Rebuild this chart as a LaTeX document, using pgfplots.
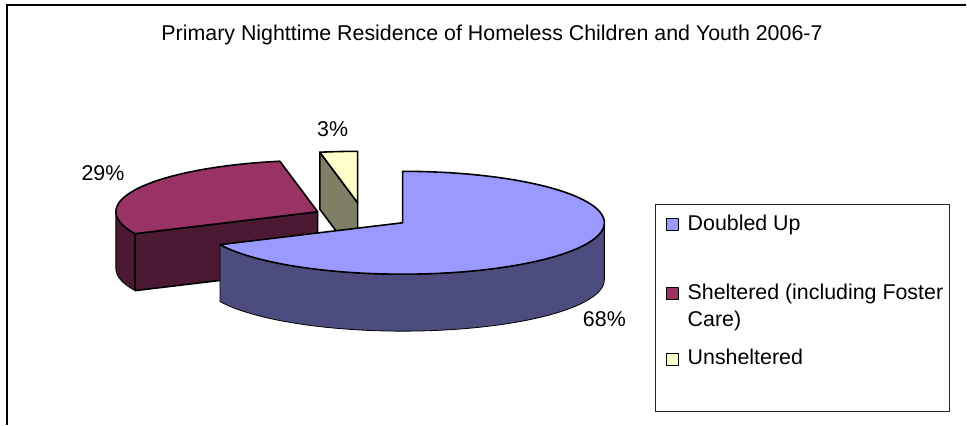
\documentclass[border=0pt]{standalone}
\usepackage{fontspec}
\setmainfont{Liberation Sans}
\usepackage{pgfplots}
\pgfplotsset{compat=1.18}
\usepackage{pgfplotstable}
\usepgfplotslibrary{fillbetween}

\definecolor{blueTop}{RGB}{153,153,255}
\definecolor{blueSide}{RGB}{76,76,127}
\definecolor{maroonTop}{RGB}{153,51,102}
\definecolor{maroonSide}{RGB}{76,25,51}
\definecolor{yellowTop}{RGB}{255,255,204}
\definecolor{yellowSide}{RGB}{127,127,102}

\pgfplotstableread{
category value
Doubled 68
Sheltered 29
Unsheltered 3
}\piedata

\newcommand\cf{\fontsize{10.7pt}{13.5pt}\selectfont}

\begin{document}%
\begin{tikzpicture}
\pgfplotstablegetelem{0}{value}\of\piedata \let\vA\pgfplotsretval
\pgfplotstablegetelem{1}{value}\of\piedata \let\vB\pgfplotsretval
\pgfplotstablegetelem{2}{value}\of\piedata \let\vC\pgfplotsretval
\pgfmathsetmacro{\tA}{90-3.6*\vA}
\pgfmathsetmacro{\tB}{\tA-3.6*\vB}
\pgfmathsetmacro{\tC}{\tB-3.6*\vC}
\def\ra{202}\def\rb{51.5}\def\hh{57}
\def\cAx{403}\def\cAy{202}
\def\cBx{318}\def\cBy{213}
\def\cCx{358}\def\cCy{222}
\pgfmathsetmacro{\cAyb}{\cAy-\hh}
\pgfmathsetmacro{\cByb}{\cBy-\hh}
\pgfmathsetmacro{\cCyb}{\cCy-\hh}
\pgfmathsetmacro{\pBx}{\cBx+\ra*cos(\tA)}
\pgfmathsetmacro{\pBy}{\cBy+\rb*sin(\tA)}
\pgfmathsetmacro{\pByb}{\pBy-\hh}
\pgfmathsetmacro{\pCx}{\cCx+\ra*cos(\tB)}
\pgfmathsetmacro{\pCy}{\cCy+\rb*sin(\tB)}
\pgfmathsetmacro{\pCyb}{\pCy-\hh}
\begin{axis}[
  scale only axis, width=483.5pt, height=212.5pt,
  xmin=0, xmax=967, ymin=0, ymax=425,
  hide axis, clip=false,
  every axis plot/.append style={line width=0.8pt, line join=round},
]
\path (axis cs:0,0) rectangle (axis cs:967,425);
% frame
\draw[line width=1pt, black] (axis cs:7.5,0) -- (axis cs:7.5,420) -- (axis cs:967,420);
% title
\node[anchor=base, font=\cf] at (axis cs:492.5,384) {Primary Nighttime Residence of Homeless Children and Youth 2006-7};

% --- Unsheltered slice
\addplot[fill=yellowSide, draw=black] coordinates {(\cCx,\cCy) (\pCx,\pCy) (\pCx,\pCyb) (\cCx,\cCyb)} -- cycle;
\addplot[fill=yellowTop, draw=black, domain=\tC:\tB, samples=10, variable=\t]
  ({\cCx+\ra*cos(\t)},{\cCy+\rb*sin(\t)}) -- (axis cs:\cCx,\cCy) -- cycle;

% --- Sheltered slice
\addplot[name path=mt, draw=none, domain=-180:\tA, samples=20, variable=\t]
  ({\cBx+\ra*cos(\t)},{\cBy+\rb*sin(\t)});
\addplot[name path=mb, draw=none, domain=-180:\tA, samples=20, variable=\t]
  ({\cBx+\ra*cos(\t)},{\cByb+\rb*sin(\t)});
\addplot[fill=maroonSide, draw=black] fill between[of=mt and mb, on layer=main];
\addplot[fill=maroonSide, draw=black] coordinates {(\cBx,\cBy) (\pBx,\pBy) (\pBx,\pByb) (\cBx,\cByb)} -- cycle;
\addplot[fill=maroonTop, draw=black, domain=\tB:\tA, samples=60, variable=\t]
  ({\cBx+\ra*cos(\t)},{\cBy+\rb*sin(\t)}) -- (axis cs:\cBx,\cBy) -- cycle;

% --- Doubled Up slice
\addplot[name path=bt, draw=none, domain=\tA:0, samples=80, variable=\t]
  ({\cAx+\ra*cos(\t)},{\cAy+\rb*sin(\t)});
\addplot[name path=bb, draw=none, domain=\tA:0, samples=80, variable=\t]
  ({\cAx+\ra*cos(\t)},{\cAyb+\rb*sin(\t)});
\addplot[fill=blueSide, draw=black] fill between[of=bt and bb, on layer=main];
\addplot[fill=blueTop, draw=black, domain=\tA:90, samples=120, variable=\t]
  ({\cAx+\ra*cos(\t)},{\cAy+\rb*sin(\t)}) -- (axis cs:\cAx,\cAy) -- cycle;

% data labels
\node[anchor=base, font=\cf] at (axis cs:103,244) {29\%};
\node[anchor=base, font=\cf] at (axis cs:333,288) {3\%};
\node[anchor=base, font=\cf] at (axis cs:605,98) {68\%};

% legend
\draw[line width=0.5pt, black!85] (axis cs:656,13) rectangle (axis cs:950,220);
\addplot[fill=blueTop, draw=black, line width=0.5pt] coordinates {(667,194) (679,194) (679,206) (667,206)} -- cycle;
\addplot[fill=maroonTop, draw=black, line width=0.5pt] coordinates {(667,125) (679,125) (679,137) (667,137)} -- cycle;
\addplot[fill=yellowTop, draw=black, line width=0.5pt] coordinates {(667,59) (679,59) (679,71) (667,71)} -- cycle;
\node[anchor=base west, font=\cf, inner sep=0pt] at (axis cs:688,194) {Doubled Up};
\node[anchor=base west, font=\cf, inner sep=0pt] at (axis cs:688,125) {Sheltered (including Foster};
\node[anchor=base west, font=\cf, inner sep=0pt] at (axis cs:688,98) {Care)};
\node[anchor=base west, font=\cf, inner sep=0pt] at (axis cs:688,60) {Unsheltered};
\end{axis}
\end{tikzpicture}%
\end{document}
